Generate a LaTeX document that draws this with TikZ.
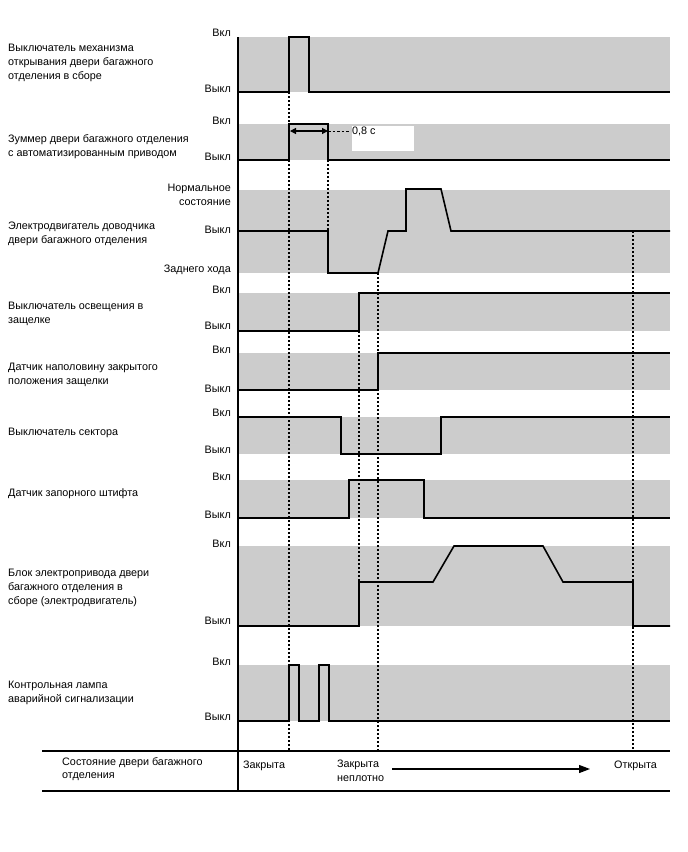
\documentclass[tikz,border=0pt]{standalone}
\usepackage{fontspec}
\setmainfont{Liberation Sans}
\usetikzlibrary{arrows.meta}
\begin{document}
\begin{tikzpicture}[x=1pt,y=-1pt]
\tikzset{etat/.style={anchor=east, inner sep=0pt, font=\fontsize{10.8}{13}\selectfont},
  titre/.style={anchor=west, inner sep=0pt, align=left, font=\fontsize{10.8}{13.7}\selectfont},
  signal/.style={line width=1.6pt},
  pointille/.style={line width=1.3pt, dash pattern=on 2pt off 2pt},
  bande/.style={fill=black!20}}
\useasboundingbox (0,0) rectangle (688,852);
% bandes grises
\foreach \a/\b in {37/92,124/160,190/273,293/331,353/390,417/454,480/518,546/626,665/721}
  \fill[bande] (238,\a) rectangle (670,\b);
\fill[white] (352,126) rectangle (414,151);
% pointilles
\draw[pointille] (289,92) -- (289,751);
\draw[pointille] (328,160) -- (328,231);
\draw[pointille] (359,331) -- (359,582);
\draw[pointille] (378,273) -- (378,751);
\draw[pointille] (633,231) -- (633,751);
% signaux
\draw[signal] (238,92) -- (289,92) -- (289,37) -- (309,37) -- (309,92) -- (670,92);
\draw[signal] (238,160) -- (289,160) -- (289,124) -- (328,124) -- (328,160) -- (670,160);
\draw[signal] (238,231) -- (328,231) -- (328,273) -- (378,273) -- (388,231) -- (406,231)
  -- (406,189) -- (441,189) -- (451,231) -- (670,231);
\draw[signal] (238,331) -- (359,331) -- (359,293) -- (670,293);
\draw[signal] (238,390) -- (378,390) -- (378,353) -- (670,353);
\draw[signal] (238,417) -- (341,417) -- (341,454) -- (441,454) -- (441,417) -- (670,417);
\draw[signal] (238,518) -- (349,518) -- (349,480) -- (424,480) -- (424,518) -- (670,518);
\draw[signal] (238,626) -- (359,626) -- (359,582) -- (433,582) -- (454,546) -- (543,546)
  -- (563,582) -- (633,582) -- (633,626) -- (670,626);
\draw[signal] (238,721) -- (289,721) -- (289,665) -- (299,665) -- (299,721) -- (319,721)
  -- (319,665) -- (329,665) -- (329,721) -- (670,721);
% axes
\draw[line width=1.4pt] (238,37) -- (238,791);
\draw[line width=1.9pt] (42,751) -- (670,751);
\draw[line width=1.9pt] (42,791) -- (670,791);
% duree du zummer
\coordinate (z1) at (290,131);
\coordinate (z2) at (328,131);
\coordinate (z3) at (350,131);
\draw[line width=1.2pt, {Triangle[length=6pt,width=6pt]}-{Triangle[length=6pt,width=6pt]}] (z1) -- (z2);
\draw[line width=0.9pt, dash pattern=on 2.5pt off 2pt] (z2) -- (z3);
\node[etat, anchor=west] (duree) at (352,131) {0,8 с};
% etats
\node[etat] (on1) at (231,33) {Вкл};
\node[etat] (off1) at (231,89) {Выкл};
\node[etat] (on2) at (231,121) {Вкл};
\node[etat] (off2) at (231,157) {Выкл};
\node[etat, align=right, font=\fontsize{10.8}{13.7}\selectfont] (norm) at (231,195) {Нормальное\\состояние};
\node[etat] (off3) at (231,230) {Выкл};
\node[etat] (rev3) at (231,270) {Заднего хода};
\node[etat] (on4) at (231,290) {Вкл};
\node[etat] (off4) at (231,326) {Выкл};
\node[etat] (on5) at (231,350) {Вкл};
\node[etat] (off5) at (231,389) {Выкл};
\node[etat] (on6) at (231,413) {Вкл};
\node[etat] (off6) at (231,450) {Выкл};
\node[etat] (on7) at (231,477) {Вкл};
\node[etat] (off7) at (231,515) {Выкл};
\node[etat] (on8) at (231,544) {Вкл};
\node[etat] (off8) at (231,621) {Выкл};
\node[etat] (on9) at (231,662) {Вкл};
\node[etat] (off9) at (231,717) {Выкл};
% noms des signaux
\node[titre] (s1) at (8,63) {Выключатель механизма\\открывания двери багажного\\отделения в сборе};
\node[titre] (s2) at (8,147) {Зуммер двери багажного отделения\\с автоматизированным приводом};
\node[titre] (s3) at (8,234) {Электродвигатель доводчика\\двери багажного отделения};
\node[titre] (s4) at (8,314) {Выключатель освещения в\\защелке};
\node[titre] (s5) at (8,375) {Датчик наполовину закрытого\\положения защелки};
\node[titre] (s6) at (8,433) {Выключатель сектора};
\node[titre] (s7) at (8,494) {Датчик запорного штифта};
\node[titre] (s8) at (8,588) {Блок электропривода двери\\багажного отделения в\\сборе (электродвигатель)};
\node[titre] (s9) at (8,693) {Контрольная лампа\\аварийной сигнализации};
% etat de la porte
\node[titre] (porte) at (62,769) {Состояние двери багажного\\отделения};
\node[titre] (ferme) at (243,766) {Закрыта};
\node[titre, anchor=north west] (demi) at (337,760) {Закрыта\\неплотно};
\node[titre] (ouvert) at (614,766) {Открыта};
\coordinate (debut) at (392,769);
\coordinate (fin) at (590,769);
\draw[line width=1.2pt, -{Triangle[length=11pt,width=8pt]}] (debut) -- (fin);
\end{tikzpicture}
\end{document}
